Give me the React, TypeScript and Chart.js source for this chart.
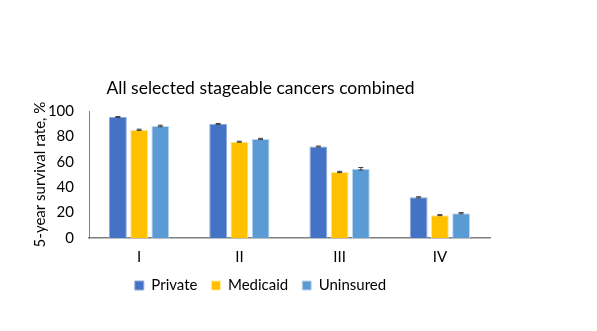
import React, { useEffect, useRef } from "react";
import { Chart, registerables } from "chart.js";

Chart.register(...registerables);

const stages = ["I", "II", "III", "IV"];
const privateVals = [95.3, 89.8, 72, 32];
const medicaidVals = [85.2, 75.8, 52, 18];
const uninsuredVals = [88.2, 78, 54.5, 19.5];
const privateErr = [0.4, 0.4, 0.4, 0.5];
const medicaidErr = [0.5, 0.4, 0.5, 0.4];
const uninsuredErr = [0.6, 0.5, 1, 0.5];
const yTicks = [0, 20, 40, 60, 80, 100];
const titleText = "All selected stageable cancers combined";
const yTitle = "5-year survival rate, %";

const FONT = "Lato, 'Open Sans', sans-serif";

const errorBars = {
  id: "errorBars",
  afterDatasetsDraw(chart: any) {
    const ctx = chart.ctx;
    const y = chart.scales.y;
    chart.data.datasets.forEach((ds: any, i: number) => {
      const meta = chart.getDatasetMeta(i);
      meta.data.forEach((el: any, j: number) => {
        const v = ds.data[j];
        const e = ds.errors[j];
        const top = y.getPixelForValue(v + e);
        const bot = y.getPixelForValue(v - e);
        ctx.save();
        ctx.strokeStyle = "#404040";
        ctx.lineWidth = 1;
        ctx.beginPath();
        ctx.moveTo(el.x, top);
        ctx.lineTo(el.x, bot);
        ctx.moveTo(el.x - 2.5, top);
        ctx.lineTo(el.x + 2.5, top);
        ctx.moveTo(el.x - 2.5, bot);
        ctx.lineTo(el.x + 2.5, bot);
        ctx.stroke();
        ctx.restore();
      });
    });
  },
};

// nudge the legend a little closer to the axis labels
const legendNudge = {
  id: "legendNudge",
  afterLayout(chart: any) {
    const lg = chart.legend;
    if (lg) {
      lg.top -= 12;
      lg.bottom -= 12;
    }
  },
};

export default function App() {
  const ref = useRef<HTMLCanvasElement>(null);
  useEffect(() => {
    document.body.style.margin = "0";
    const chart = new Chart(ref.current!, {
      type: "bar",
      data: {
        labels: stages,
        datasets: [
          { label: "Private", data: privateVals, errors: privateErr, backgroundColor: "#4472C4", borderColor: "#8FAADC", borderWidth: 1 } as any,
          { label: "Medicaid", data: medicaidVals, errors: medicaidErr, backgroundColor: "#FFC000", borderColor: "#FFE699", borderWidth: 1 } as any,
          { label: "Uninsured", data: uninsuredVals, errors: uninsuredErr, backgroundColor: "#5B9BD5", borderColor: "#BDD7EE", borderWidth: 1 } as any,
        ],
      },
      options: {
        animation: false,
        responsive: false,
        layout: { padding: { top: 0, right: 22, bottom: 16, left: 31 } },
        datasets: { bar: { categoryPercentage: 0.635, barPercentage: 0.84 } },
        plugins: {
          title: {
            display: true,
            text: titleText,
            color: "#000",
            font: { family: FONT, size: 17.5, weight: "normal" },
            padding: { top: 78, bottom: 12 },
          },
          legend: {
            position: "bottom",
            labels: {
              boxWidth: 9,
              boxHeight: 9,
              padding: 14,
              color: "#000",
              font: { family: FONT, size: 15 },
            },
          },
          tooltip: { enabled: false },
        },
        scales: {
          x: {
            grid: { display: false, drawTicks: false },
            border: { color: "#7F7F7F", width: 1.5 },
            ticks: { color: "#000", font: { family: FONT, size: 15 }, padding: 10 },
          },
          y: {
            min: 0,
            max: 100,
            afterBuildTicks: (s: any) => { s.ticks = yTicks.map((v) => ({ value: v })); },
            afterFit: (s: any) => { s.width = 58; },
            grid: { display: false, drawTicks: false },
            border: { color: "#7F7F7F", width: 1 },
            ticks: { autoSkip: false, color: "#000", font: { family: FONT, size: 15 }, padding: 15 },
            title: {
              display: true,
              text: yTitle,
              color: "#000",
              font: { family: FONT, size: 15 },
              padding: { top: 0, bottom: 4 },
            },
          },
        },
      },
      plugins: [errorBars, legendNudge],
    });
    return () => chart.destroy();
  }, []);
  return (
    <div style={{ position: "absolute", left: 0, top: 0, width: 597, height: 331, background: "#fff" }}>
      <canvas ref={ref} width={512} height={331} />
    </div>
  );
}
